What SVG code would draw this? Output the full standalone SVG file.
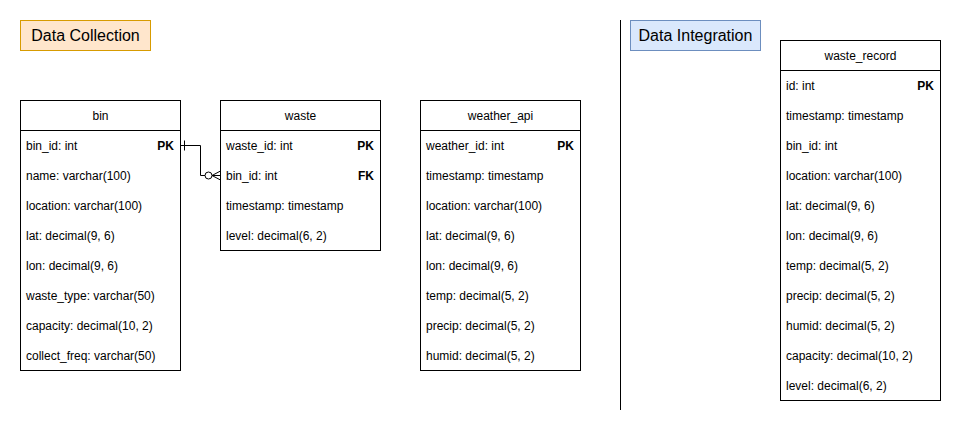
<svg xmlns="http://www.w3.org/2000/svg" width="961" height="432" viewBox="0 0 961 432">
<style>
text{font-family:"Liberation Sans",Arial,sans-serif;font-size:12px;fill:#000}
.title{font-size:16px}
.hd{text-anchor:middle}
.k{font-weight:bold;text-anchor:end}
.tb{fill:#fff;stroke:#000;stroke-width:1}
.ln{stroke:#000;stroke-width:1;fill:none}
</style>
<rect width="961" height="432" fill="#fff"/>
<g id="title-collection">
<rect x="20.5" y="20.5" width="130" height="30" fill="#ffe6cc" stroke="#d79b00"/>
<text class="title" x="85.5" y="41" text-anchor="middle">Data Collection</text>
</g>
<g id="title-integration">
<rect x="630.5" y="20.5" width="130" height="30" fill="#dae8fc" stroke="#6c8ebf"/>
<text class="title" x="695.5" y="41" text-anchor="middle">Data Integration</text>
</g>
<g id="divider">
<line class="ln" x1="620.5" y1="20" x2="620.5" y2="410"/>
</g>
<g id="bin">
<rect class="tb" x="20.5" y="100.5" width="160" height="270"/>
<line class="ln" x1="20.5" y1="130.5" x2="180.5" y2="130.5"/>
<text class="hd" x="100.5" y="119.5">bin</text>
<text x="26" y="149.5">bin_id: int</text><text class="k" x="174" y="149.5">PK</text>
<text x="26" y="179.5">name: varchar(100)</text>
<text x="26" y="209.5">location: varchar(100)</text>
<text x="26" y="239.5">lat: decimal(9, 6)</text>
<text x="26" y="269.5">lon: decimal(9, 6)</text>
<text x="26" y="299.5">waste_type: varchar(50)</text>
<text x="26" y="329.5">capacity: decimal(10, 2)</text>
<text x="26" y="359.5">collect_freq: varchar(50)</text>
</g>
<g id="waste">
<rect class="tb" x="220.5" y="100.5" width="160" height="150"/>
<line class="ln" x1="220.5" y1="130.5" x2="380.5" y2="130.5"/>
<text class="hd" x="300.5" y="119.5">waste</text>
<text x="226" y="149.5">waste_id: int</text><text class="k" x="374" y="149.5">PK</text>
<text x="226" y="179.5">bin_id: int</text><text class="k" x="374" y="179.5">FK</text>
<text x="226" y="209.5">timestamp: timestamp</text>
<text x="226" y="239.5">level: decimal(6, 2)</text>
</g>
<g id="weather_api">
<rect class="tb" x="420.5" y="100.5" width="160" height="270"/>
<line class="ln" x1="420.5" y1="130.5" x2="580.5" y2="130.5"/>
<text class="hd" x="500.5" y="119.5">weather_api</text>
<text x="426" y="149.5">weather_id: int</text><text class="k" x="574" y="149.5">PK</text>
<text x="426" y="179.5">timestamp: timestamp</text>
<text x="426" y="209.5">location: varchar(100)</text>
<text x="426" y="239.5">lat: decimal(9, 6)</text>
<text x="426" y="269.5">lon: decimal(9, 6)</text>
<text x="426" y="299.5">temp: decimal(5, 2)</text>
<text x="426" y="329.5">precip: decimal(5, 2)</text>
<text x="426" y="359.5">humid: decimal(5, 2)</text>
</g>
<g id="waste_record">
<rect class="tb" x="780.5" y="40.5" width="160" height="360"/>
<line class="ln" x1="780.5" y1="70.5" x2="940.5" y2="70.5"/>
<text class="hd" x="860.5" y="59.5">waste_record</text>
<text x="786" y="89.5">id: int</text><text class="k" x="934" y="89.5">PK</text>
<text x="786" y="119.5">timestamp: timestamp</text>
<text x="786" y="149.5">bin_id: int</text>
<text x="786" y="179.5">location: varchar(100)</text>
<text x="786" y="209.5">lat: decimal(9, 6)</text>
<text x="786" y="239.5">lon: decimal(9, 6)</text>
<text x="786" y="269.5">temp: decimal(5, 2)</text>
<text x="786" y="299.5">precip: decimal(5, 2)</text>
<text x="786" y="329.5">humid: decimal(5, 2)</text>
<text x="786" y="359.5">capacity: decimal(10, 2)</text>
<text x="786" y="389.5">level: decimal(6, 2)</text>
</g>
<g id="connectors">
<path class="ln" d="M180.5 145.5 H200.5 V175.5 H205"/>
<line class="ln" x1="184.5" y1="140.5" x2="184.5" y2="150.5"/>
<circle class="ln" cx="208.5" cy="175.5" r="3.5" fill="#fff"/>
<path class="ln" d="M212 175.5 H220.5 M212 175.5 L220.5 171 M212 175.5 L220.5 180"/>
</g>
</svg>
